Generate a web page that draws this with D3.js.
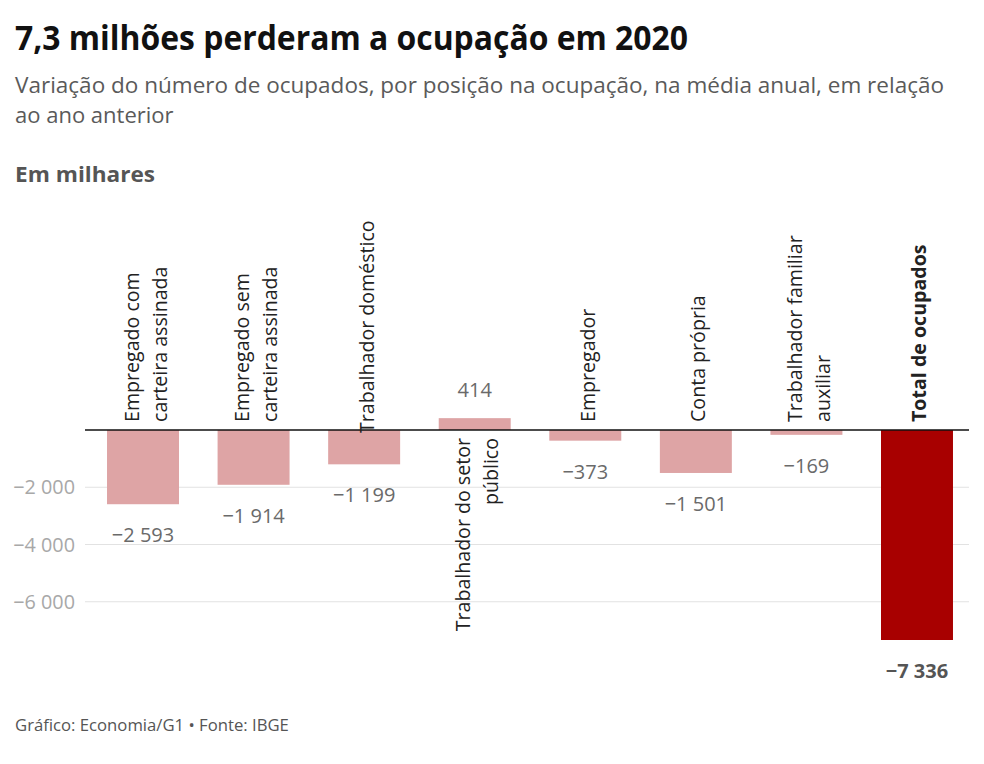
<!DOCTYPE html>
<html>
<head>
<meta charset="utf-8">
<script src="https://cdn.jsdelivr.net/npm/d3@7"></script>
<style>
  body { margin: 0; background: #fff; }
  svg { font-family: "Open Sans", sans-serif; }
</style>
</head>
<body>
<svg id="chart"></svg>
<script>
// dados (em milhares)
const categories = [
  "Empregado com|carteira assinada",
  "Empregado sem|carteira assinada",
  "Trabalhador doméstico",
  "Trabalhador do setor|público",
  "Empregador",
  "Conta própria",
  "Trabalhador familiar|auxiliar",
  "Total de ocupados"
];
const values = [-2593, -1914, -1199, 414, -373, -1501, -169, -7336];
const yTicks = [-2000, -4000, -6000];

const width = 984;
const height = 764;

const svg = d3.select("#chart").attr("width", width).attr("height", height);

// formato pt-BR: espaço como separador de milhar, sinal de menos
const label = (v) => (v < 0 ? "\u2212" : "") + d3.format(",")(Math.abs(v)).replace(/,/g, " ");

// título
svg.append("text")
  .attr("x", 15).attr("y", 50)
  .attr("font-size", 34).attr("font-weight", 700)
  .attr("fill", "#111")
  .attr("textLength", 673).attr("lengthAdjust", "spacingAndGlyphs")
  .text("7,3 milhões perderam a ocupação em 2020");

svg.append("text")
  .attr("x", 15).attr("y", 93)
  .attr("font-size", 22).attr("fill", "#5a5a5a")
  .attr("textLength", 929).attr("lengthAdjust", "spacingAndGlyphs")
  .text("Variação do número de ocupados, por posição na ocupação, na média anual, em relação");
svg.append("text")
  .attr("x", 15).attr("y", 123)
  .attr("font-size", 22).attr("fill", "#5a5a5a")
  .text("ao ano anterior");

svg.append("text")
  .attr("x", 15).attr("y", 182)
  .attr("font-size", 22).attr("font-weight", 700)
  .attr("fill", "#555")
  .attr("textLength", 140).attr("lengthAdjust", "spacingAndGlyphs")
  .text("Em milhares");

// escalas
const x = d3.scaleBand()
  .domain(categories)
  .range([88, 972])
  .paddingInner(0.349)
  .paddingOuter(0.172);

const y = d3.scaleLinear()
  .domain([0, -7336])
  .range([430, 640]);

// grade
svg.append("g")
  .selectAll("line")
  .data(yTicks)
  .join("line")
  .attr("x1", 85).attr("x2", 969)
  .attr("y1", (d) => y(d)).attr("y2", (d) => y(d))
  .attr("stroke", "#e2e2e2").attr("stroke-width", 1);

svg.append("g")
  .selectAll("text")
  .data(yTicks)
  .join("text")
  .attr("x", 75)
  .attr("y", (d) => y(d) + 7)
  .attr("text-anchor", "end")
  .attr("font-size", 19.8)
  .attr("fill", "#a8a8a8")
  .text((d) => label(d));

// barras
const isTotal = (i) => i === categories.length - 1;

svg.append("g")
  .selectAll("rect")
  .data(values)
  .join("rect")
  .attr("x", (d, i) => x(categories[i]))
  .attr("width", x.bandwidth())
  .attr("y", (d) => y(Math.max(0, d)))
  .attr("height", (d) => Math.abs(y(d) - y(0)))
  .attr("fill", (d, i) => (isTotal(i) ? "#a80000" : "#dea4a5"));

// linha zero
svg.append("line")
  .attr("x1", 85).attr("x2", 969)
  .attr("y1", y(0)).attr("y2", y(0))
  .attr("stroke", "#111").attr("stroke-width", 1.5);

// rótulos de valor
svg.append("g")
  .selectAll("text")
  .data(values)
  .join("text")
  .attr("x", (d, i) => x(categories[i]) + x.bandwidth() / 2)
  .attr("y", (d) => (d < 0 ? y(d) + 38 : y(d) - 21))
  .attr("text-anchor", "middle")
  .attr("font-size", 20)
  .attr("font-weight", (d, i) => (isTotal(i) ? 700 : 400))
  .attr("fill", (d, i) => (isTotal(i) ? "#555" : "#6a6a6a"))
  .text((d) => label(d));

// rótulos de categoria (verticais)
const cat = svg.append("g")
  .selectAll("text")
  .data(categories)
  .join("text")
  .attr("transform", (c, i) => {
    const cx = x(c) + x.bandwidth() / 2 + 2;
    let ty = values[i] < 0 ? y(0) - 8 : y(0) + 8;
    if (c === "Trabalhador doméstico") ty = y(0) + 3;
    return `translate(${cx},${ty}) rotate(-90)`;
  })
  .attr("text-anchor", (c, i) => (values[i] < 0 ? "start" : "end"))
  .attr("font-size", 19.6)
  .attr("font-weight", (c, i) => (isTotal(i) ? 700 : 400))
  .attr("fill", "#222");

cat.each(function (c) {
  const lines = c.split("|");
  const t = d3.select(this);
  lines.forEach((ln, k) => {
    t.append("tspan")
      .attr("x", 0)
      .attr("y", (k - (lines.length - 1) / 2) * 28)
      .attr("dominant-baseline", "central")
      .text(ln);
  });
});

// fonte
svg.append("text")
  .attr("x", 15).attr("y", 731)
  .attr("font-size", 16.7).attr("fill", "#555")
  .text("Gráfico: Economia/G1 • Fonte: IBGE");
</script>
</body>
</html>
